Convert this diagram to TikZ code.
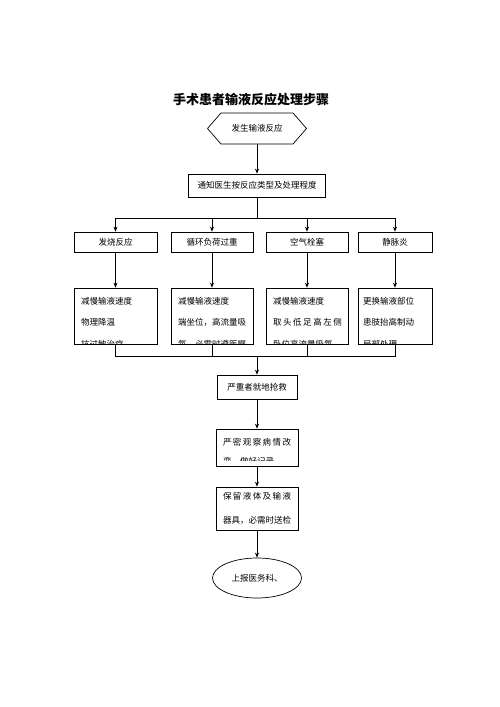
\documentclass[tikz,border=0pt]{standalone}
\usepackage{fontspec}
\newfontfamily\cjk{Noto Sans CJK SC}
\usetikzlibrary{shapes.geometric, shapes.symbols, arrows.meta, calc}
\newcommand{\spreadto}[2]{\makebox[#1][s]{#2}}

\tikzset{
  box/.style={draw, rectangle, inner sep=0pt, font=\cjk\fontsize{8.5}{10}\selectfont},
  boxtext/.style={anchor=north west, align=left, inner sep=0pt, font=\cjk\fontsize{8.5}{21.5}\selectfont},
  arr/.style={-{Stealth[length=5pt,width=4pt]}},
}

\begin{document}
\begin{tikzpicture}[x=1pt, y=-1pt, line width=0.7pt]
  \useasboundingbox (0,0) rectangle (500,707);
  \fill[white] (0,0) rectangle (500,707);

  % title
  \node[font=\cjk\bfseries\fontsize{13}{15}\selectfont] (title) at (251,100) {手术患者输液反应处理步骤};

  % start and notice
  \node[box, signal, signal to=east and west, signal pointer angle=98,
        minimum width=99, minimum height=31] (start) at (257,128.5) {发生输液反应};
  \node[box, minimum width=137, minimum height=23] (notify) at (257,185.5) {通知医生按反应类型及处理程度};
  \draw[arr] (start.south) -- (notify.north);

  % four kinds of reaction
  \node[box, minimum width=83, minimum height=20] (fever) at (115.5,242) {发烧反应};
  \node[box, minimum width=82, minimum height=20] (overload) at (212,242) {循环负荷过重};
  \node[box, minimum width=82, minimum height=20] (embol) at (307,242) {空气栓塞};
  \node[box, minimum width=74, minimum height=20] (phleb) at (395,242) {静脉炎};

  \coordinate (split) at (257,218);
  \draw (notify.south) -- (split);
  \foreach \n in {fever, overload, embol, phleb}
    \draw[arr] (split) -| (\n.north);

  % measures
  \node[box, minimum width=83, minimum height=56] (feverdo) at (115.5,316) {};
  \node[box, minimum width=82, minimum height=56] (overloaddo) at (212,316) {};
  \node[box, minimum width=82, minimum height=56] (emboldo) at (307,316) {};
  \node[box, minimum width=74, minimum height=56] (phlebdo) at (395,316) {};

  \begin{scope}
    \clip ($(feverdo.south west)+(0,-1)$) rectangle (feverdo.north east);
    \node[boxtext] at ($(feverdo.north west)+(7,9)$) {减慢输液速度\\物理降温\\抗过敏治疗};
  \end{scope}
  \begin{scope}
    \clip ($(overloaddo.south west)+(0,-1)$) rectangle (overloaddo.north east);
    \node[boxtext] at ($(overloaddo.north west)+(7,9)$)
      {减慢输液速度\\
       \spreadto{66pt}{端\hfill 坐\hfill 位\hfill ，\hfill 高\hfill 流\hfill 量\hfill 吸}\\
       \spreadto{66pt}{氧\hfill ，\hfill 必\hfill 需\hfill 时\hfill 遵\hfill 医\hfill 嘱}};
  \end{scope}
  \begin{scope}
    \clip ($(emboldo.south west)+(0,-1)$) rectangle (emboldo.north east);
    \node[boxtext] at ($(emboldo.north west)+(7,9)$)
      {减慢输液速度\\
       \spreadto{69pt}{取\hfill 头\hfill 低\hfill 足\hfill 高\hfill 左\hfill 侧}\\
       卧位高流量吸氧，};
  \end{scope}
  \begin{scope}
    \clip ($(phlebdo.south west)+(0,-1)$) rectangle (phlebdo.north east);
    \node[boxtext] at ($(phlebdo.north west)+(5,9)$) {更换输液部位\\患肢抬高制动\\局部处理};
  \end{scope}

  \foreach \a/\b in {fever/feverdo, overload/overloaddo, embol/emboldo, phleb/phlebdo}
    \draw[arr] (\a.south) -- (\b.north);

  % rescue and follow-up
  \node[box, minimum width=80, minimum height=24] (rescue) at (257,387) {严重者就地抢救};
  \node[box, minimum width=82, minimum height=37] (observe) at (257,447.5) {};
  \begin{scope}
    \clip ($(observe.south west)+(0,-6)$) rectangle (observe.north east);
    \node[boxtext, font=\cjk\fontsize{8.5}{19}\selectfont] at ($(observe.north west)+(7,9)$)
      {\spreadto{68pt}{严\hfill 密\hfill 观\hfill 察\hfill 病\hfill 情\hfill 改}\\变，做好记录};
  \end{scope}
  \node[box, minimum width=82, minimum height=43, align=center,
        font=\cjk\fontsize{8.5}{24}\selectfont] (keep) at (257,508.5)
        {\spreadto{68pt}{保\hfill 留\hfill 液\hfill 体\hfill 及\hfill 输\hfill 液}\\
         \spreadto{68pt}{器\hfill 具\hfill ，\hfill 必\hfill 需\hfill 时\hfill 送\hfill 检}};
  \node[box, ellipse, minimum width=89, minimum height=40] (report) at (257,578) {上报医务科、};

  \coordinate (merge) at (257,356);
  \foreach \n in {feverdo, overloaddo, emboldo, phlebdo}
    \draw (\n.south) |- (merge);
  \draw[arr] (merge) -- (rescue.north);
  \draw[arr] (rescue.south) -- (observe.north);
  \draw[arr] (observe.south) -- (keep.north);
  \draw[arr] (keep.south) -- (report.north);
\end{tikzpicture}
\end{document}
